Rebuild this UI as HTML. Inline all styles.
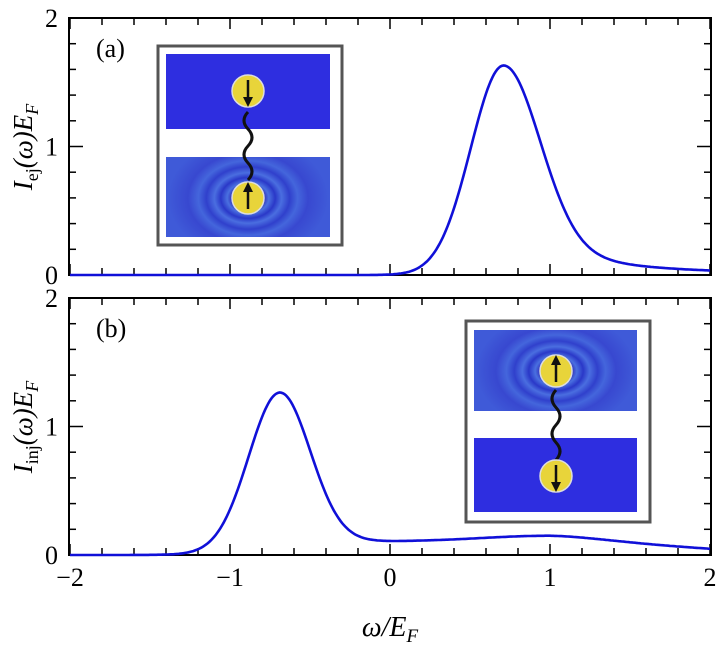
<!DOCTYPE html>
<html><head><meta charset="utf-8"><style>
body{margin:0;background:#fff;}
svg text{font-family:"Liberation Serif",serif;fill:#000;}
</style></head><body>
<svg id="s" width="720" height="647" viewBox="0 0 720 647" xmlns="http://www.w3.org/2000/svg">
<defs>
<radialGradient id="rip" cx="0.5" cy="0.5" r="0.5">
<stop offset="0" stop-color="#3a56d8"/>
<stop offset="0.12" stop-color="#60c8f0"/>
<stop offset="0.18" stop-color="#2a20b0"/>
<stop offset="0.26" stop-color="#4a70e0"/>
<stop offset="0.34" stop-color="#2a38c8"/>
<stop offset="0.42" stop-color="#4a6ee0"/>
<stop offset="0.52" stop-color="#3040cc"/>
<stop offset="0.62" stop-color="#4466dc"/>
<stop offset="0.75" stop-color="#3848d0"/>
<stop offset="1" stop-color="#3f5ad8"/>
</radialGradient>
<clipPath id="ca"><rect x="166" y="157" width="164" height="80"/></clipPath>
<clipPath id="cb"><rect x="474" y="330" width="163" height="81"/></clipPath>
<marker id="ah" viewBox="0 0 10 10" refX="5" refY="5" markerWidth="4" markerHeight="4" orient="auto"><path d="M0,0 L10,5 L0,10z" fill="#111"/></marker>
</defs>
<g id="g"></g>
</svg>
<script>
var g=document.getElementById('g'),o='';
function X(w){return 70+(w+2)*160;}
function axes(top,bot){
  var h=bot-top;
  o+='<rect x="69" y="'+top+'" width="642" height="'+h+'" fill="none" stroke="#000" stroke-width="2"/>';
  for(var i=-10;i<=10;i++){var w=i/5,x=X(w),L=(i%5==0)?11:7;
    o+='<line x1="'+x+'" y1="'+bot+'" x2="'+x+'" y2="'+(bot-L)+'" stroke="#000" stroke-width="1.5"/>';
    o+='<line x1="'+x+'" y1="'+top+'" x2="'+x+'" y2="'+(top+L)+'" stroke="#000" stroke-width="1.5"/>';}
  for(var j=0;j<=10;j++){var y=bot-j*h/10,L=(j%5==0)?14:7;
    o+='<line x1="69" y1="'+y+'" x2="'+(69+L)+'" y2="'+y+'" stroke="#000" stroke-width="1.5"/>';
    o+='<line x1="711" y1="'+y+'" x2="'+(711-L)+'" y2="'+y+'" stroke="#000" stroke-width="1.5"/>';}
  for(var k=0;k<=2;k++){o+='<text x="58" y="'+(bot-k*h/2+9)+'" font-size="26" text-anchor="end">'+k+'</text>';}
}
axes(18,275);axes(298,555);
function curve(f,top,bot){var h=bot-top,d='';
  for(var w=-2;w<=2.0001;w+=0.01){d+=(d?'L':'M')+X(w).toFixed(1)+','+(bot-f(w)*h/2).toFixed(1);}
  o+='<path d="'+d+'" fill="none" stroke="#1010d8" stroke-width="2.6"/>';}
curve(function(w){var p=0.71,d=w-p;if(w<p)return 1.63*Math.exp(-Math.pow(d/0.29,2));
  return 1.63*(0.8*Math.exp(-Math.pow(d/0.32,2))+0.2/(1+Math.pow(d/0.45,2)));},18,275);
curve(function(w){var p=-0.69,s=0.27;var pk=1.17*Math.exp(-Math.pow((w-p)/s,2));
  var st=1/(1+Math.exp(-(w+0.95)/0.12));var bg=0.105+0.045*Math.exp(-Math.pow((w-1)/0.6,2));
  if(w>1)bg*=1-0.55*Math.pow(w-1,1.3);return pk+st*bg;},298,555);
o+='<text x="96" y="57" font-size="26">(a)</text><text x="96" y="337" font-size="26">(b)</text>';
var xl=['\u22122','\u22121','0','1','2'];
for(var i=0;i<5;i++)o+='<text x="'+X(i-2)+'" y="586" font-size="26" text-anchor="middle">'+xl[i]+'</text>';
o+='<text x="390" y="636" font-size="28" text-anchor="middle" font-style="italic">ω/<tspan>E</tspan><tspan font-size="19" dy="6">F</tspan></text>';
o+='<text transform="translate(32,147) rotate(-90)" font-size="27" text-anchor="middle" font-style="italic">I<tspan font-style="normal" font-size="18" dy="6">ej</tspan><tspan dy="-6">(ω)E</tspan><tspan font-size="18" dy="6">F</tspan></text>';
o+='<text transform="translate(32,427) rotate(-90)" font-size="27" text-anchor="middle" font-style="italic">I<tspan font-style="normal" font-size="18" dy="6">inj</tspan><tspan dy="-6">(ω)E</tspan><tspan font-size="18" dy="6">F</tspan></text>';
function spin(cx,cy,up){o+='<circle cx="'+cx+'" cy="'+cy+'" r="16" fill="#e8d43a" stroke="#ddd" stroke-width="1.5"/>';
  var a=up?cy+11:cy-11,b=up?cy-11:cy+11;o+='<line x1="'+cx+'" y1="'+a+'" x2="'+cx+'" y2="'+b+'" stroke="#111" stroke-width="2.5" marker-end="url(#ah)"/>';}
function wig(cx,y1,y2){var d='M'+cx+','+y1;var n=4,dy=(y2-y1)/n;for(var i=0;i<n;i++){var s=i%2?-8:8;d+=' Q'+(cx+s)+','+(y1+dy*(i+0.5))+' '+cx+','+(y1+dy*(i+1));}
  o+='<path d="'+d+'" fill="none" stroke="#111" stroke-width="3"/>';}
// inset a
o+='<rect x="158" y="46" width="184" height="199" fill="#fff" stroke="#555" stroke-width="3"/>';
o+='<rect x="166" y="54" width="164" height="75" fill="#2e2ee0"/>';
o+='<rect x="166" y="157" width="164" height="80" fill="#3f5ad8"/>';
o+='<ellipse cx="248" cy="198" rx="80" ry="60" fill="url(#rip)" clip-path="url(#ca)"/>';
wig(248,180,112);spin(248,198,true);spin(248,91,false);
// inset b
o+='<rect x="466" y="321" width="184" height="201" fill="#fff" stroke="#555" stroke-width="3"/>';
o+='<rect x="474" y="330" width="163" height="81" fill="#3f5ad8"/>';
o+='<ellipse cx="556" cy="371" rx="80" ry="58" fill="url(#rip)" clip-path="url(#cb)"/>';
o+='<rect x="474" y="438" width="163" height="74" fill="#2e2ee0"/>';
wig(556,460,390);spin(556,371,true);spin(556,476,false);
g.innerHTML=o;
</script>
</body></html>
